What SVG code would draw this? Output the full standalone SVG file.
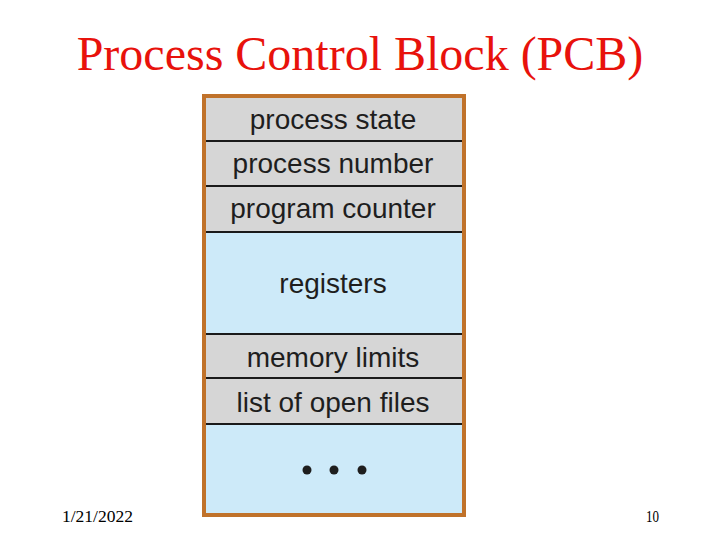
<svg xmlns="http://www.w3.org/2000/svg" width="720" height="540" viewBox="0 0 720 540">
<style>
.title{font-family:"Liberation Serif","Times New Roman",serif;font-size:48px;fill:#e8120c}
.foot{font-family:"Liberation Serif","Times New Roman",serif;font-size:16px;fill:#000}
.lbl{font-family:"Liberation Sans",Arial,sans-serif;font-size:28px;fill:#1e1e1e;text-anchor:middle}
.gray{fill:#d6d6d6}
.blue{fill:#cdeaf9}
.sep{stroke:#1a1a1a;stroke-width:2}
</style>
<rect width="720" height="540" fill="#fff"/>
<text class="title" x="360" y="70" text-anchor="middle">Process Control Block (PCB)</text>
<g id="pcb">
<rect x="204" y="96" width="260" height="419" fill="#cdeaf9" stroke="#c0722a" stroke-width="4"/>
<g id="process-state"><rect class="gray" x="206" y="98" width="256" height="43"/><text class="lbl" x="333" y="129">process state</text></g>
<g id="process-number"><rect class="gray" x="206" y="141" width="256" height="45"/><text class="lbl" x="333" y="173">process number</text></g>
<g id="program-counter"><rect class="gray" x="206" y="186" width="256" height="46"/><text class="lbl" x="333" y="218">program counter</text></g>
<g id="registers"><rect class="blue" x="206" y="232" width="256" height="102"/><text class="lbl" x="333" y="293">registers</text></g>
<g id="memory-limits"><rect class="gray" x="206" y="334" width="256" height="44"/><text class="lbl" x="333" y="367">memory limits</text></g>
<g id="open-files"><rect class="gray" x="206" y="378" width="256" height="46"/><text class="lbl" x="333" y="412">list of open files</text></g>
<g id="more"><rect class="blue" x="206" y="424" width="256" height="89"/>
<circle cx="307" cy="470" r="4.5" fill="#1e1e1e"/><circle cx="334" cy="470" r="4.5" fill="#1e1e1e"/><circle cx="362" cy="470" r="4.5" fill="#1e1e1e"/></g>
<g id="separators">
<line class="sep" x1="206" y1="141" x2="462" y2="141"/>
<line class="sep" x1="206" y1="186" x2="462" y2="186"/>
<line class="sep" x1="206" y1="232" x2="462" y2="232"/>
<line class="sep" x1="206" y1="334" x2="462" y2="334"/>
<line class="sep" x1="206" y1="378" x2="462" y2="378"/>
<line class="sep" x1="206" y1="424" x2="462" y2="424"/>
</g>
</g>
<text class="foot" x="62" y="522" textLength="71" lengthAdjust="spacingAndGlyphs">1/21/2022</text>
<text class="foot" x="646" y="522" textLength="13" lengthAdjust="spacingAndGlyphs">10</text>
</svg>
